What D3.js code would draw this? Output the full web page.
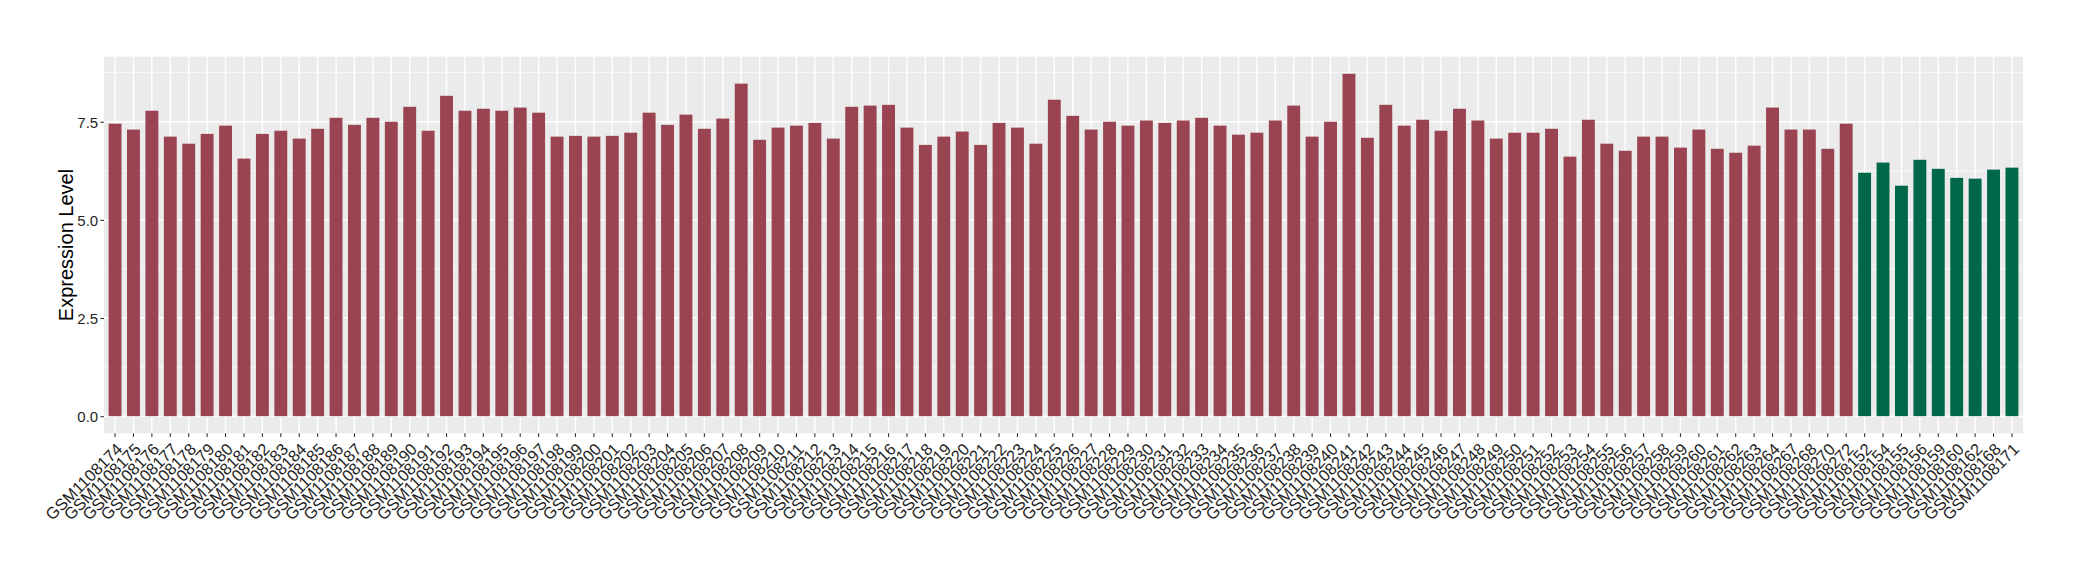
<!DOCTYPE html>
<meta charset='utf-8'>
<title>Expression Level</title>
<style>
body { margin: 0; background: #fff; }
.panel { fill: #ebebeb; }
.grid-major line { stroke: #fff; stroke-width: 1.4px; }
.grid-minor line { stroke: #fff; stroke-width: 0.7px; }
.axis path { display: none; }
.axis line { stroke: #333; stroke-width: 1.07px; }
.axis text { fill: #1f1f1f; font-family: 'Liberation Sans', Arial, sans-serif; font-size: 15px; }
.xaxis text { font-size: 16.5px; }
.ytitle { font-family: 'Liberation Sans', Arial, sans-serif; font-size: 20px; fill: #000; }
</style>
<body>
<script src='https://d3js.org/d3.v7.min.js'></script>
<script>
// group 1 samples (maroon)
var groupASamples = [
  'GSM1108174','GSM1108175','GSM1108176','GSM1108177','GSM1108178','GSM1108179','GSM1108180','GSM1108181',
  'GSM1108182','GSM1108183','GSM1108184','GSM1108185','GSM1108186','GSM1108187','GSM1108188','GSM1108189',
  'GSM1108190','GSM1108191','GSM1108192','GSM1108193','GSM1108194','GSM1108195','GSM1108196','GSM1108197',
  'GSM1108198','GSM1108199','GSM1108200','GSM1108201','GSM1108202','GSM1108203','GSM1108204','GSM1108205',
  'GSM1108206','GSM1108207','GSM1108208','GSM1108209','GSM1108210','GSM1108211','GSM1108212','GSM1108213',
  'GSM1108214','GSM1108215','GSM1108216','GSM1108217','GSM1108218','GSM1108219','GSM1108220','GSM1108221',
  'GSM1108222','GSM1108223','GSM1108224','GSM1108225','GSM1108226','GSM1108227','GSM1108228','GSM1108229',
  'GSM1108230','GSM1108231','GSM1108232','GSM1108233','GSM1108234','GSM1108235','GSM1108236','GSM1108237',
  'GSM1108238','GSM1108239','GSM1108240','GSM1108241','GSM1108242','GSM1108243','GSM1108244','GSM1108245',
  'GSM1108246','GSM1108247','GSM1108248','GSM1108249','GSM1108250','GSM1108251','GSM1108252','GSM1108253',
  'GSM1108254','GSM1108255','GSM1108256','GSM1108257','GSM1108258','GSM1108259','GSM1108260','GSM1108261',
  'GSM1108262','GSM1108263','GSM1108264','GSM1108267','GSM1108268','GSM1108270','GSM1108272'
];
var groupAValues = [
  7.45, 7.30, 7.78, 7.12, 6.94, 7.19, 7.40, 6.56, 7.19, 7.27, 7.07, 7.32, 7.60, 7.42, 7.60, 7.50,
  7.88, 7.27, 8.16, 7.78, 7.83, 7.78, 7.86, 7.73, 7.12, 7.14, 7.12, 7.14, 7.22, 7.73, 7.42, 7.68,
  7.32, 7.58, 8.47, 7.04, 7.35, 7.40, 7.47, 7.07, 7.88, 7.91, 7.93, 7.35, 6.91, 7.12, 7.25, 6.91,
  7.47, 7.35, 6.94, 8.06, 7.65, 7.30, 7.50, 7.40, 7.53, 7.47, 7.53, 7.60, 7.40, 7.17, 7.22, 7.53,
  7.91, 7.12, 7.50, 8.72, 7.09, 7.93, 7.40, 7.55, 7.27, 7.83, 7.53, 7.07, 7.22, 7.22, 7.32, 6.61,
  7.55, 6.94, 6.76, 7.12, 7.12, 6.84, 7.30, 6.81, 6.71, 6.89, 7.86, 7.30, 7.30, 6.81, 7.45
];
// group 2 samples (green)
var groupBSamples = [
  'GSM1108152','GSM1108154','GSM1108155','GSM1108156','GSM1108159','GSM1108160','GSM1108162','GSM1108168','GSM1108171'
];
var groupBValues = [6.20, 6.46, 5.87, 6.53, 6.30, 6.07, 6.05, 6.28, 6.33];

var yTicks = [0, 2.5, 5, 7.5];
var yMinor = [1.25, 3.75, 6.25, 8.75];

var colorA = '#9a4351', colorB = '#00674a';

var data = groupASamples.map(function(s, i) { return {sample: s, value: groupAValues[i], color: colorA}; })
  .concat(groupBSamples.map(function(s, i) { return {sample: s, value: groupBValues[i], color: colorB}; }));

var margin = {top: 56.7, right: 57, bottom: 146.7, left: 104},
    width = 2080 - margin.left - margin.right,
    height = 580 - margin.top - margin.bottom;

var svg = d3.select('body')
  .append('svg')
  .attr('width', 2080)
  .attr('height', 580)
  .append('g')
  .attr('transform', 'translate(' + margin.left + ',' + margin.top + ')');

// discrete x, ggplot-like 0.6 expansion on each side, bar width 0.7
var x = d3.scaleBand()
  .domain(data.map(function(d) { return d.sample; }))
  .range([0, width])
  .paddingInner(0.3)
  .paddingOuter(0.25);

var ymax = d3.max(data, function(d) { return d.value; });
var y = d3.scaleLinear()
  .domain([-0.05 * ymax, 1.05 * ymax])
  .range([height, 0]);

svg.append('rect').attr('class', 'panel').attr('width', width).attr('height', height);

svg.append('g').attr('class', 'grid-minor')
  .selectAll('line').data(yMinor).enter().append('line')
  .attr('x1', 0).attr('x2', width)
  .attr('y1', function(d) { return y(d); }).attr('y2', function(d) { return y(d); });

svg.append('g').attr('class', 'grid-major')
  .selectAll('line').data(yTicks).enter().append('line')
  .attr('x1', 0).attr('x2', width)
  .attr('y1', function(d) { return y(d); }).attr('y2', function(d) { return y(d); });

svg.append('g').attr('class', 'grid-major')
  .selectAll('line').data(data).enter().append('line')
  .attr('x1', function(d) { return x(d.sample) + x.bandwidth() / 2; })
  .attr('x2', function(d) { return x(d.sample) + x.bandwidth() / 2; })
  .attr('y1', 0).attr('y2', height);

svg.selectAll('.bar')
  .data(data)
  .enter().append('rect')
  .attr('class', 'bar')
  .attr('x', function(d) { return x(d.sample); })
  .attr('width', x.bandwidth())
  .attr('y', function(d) { return y(d.value); })
  .attr('height', function(d) { return y(0) - y(d.value); })
  .attr('fill', function(d) { return d.color; });

// y axis
svg.append('g')
  .attr('class', 'axis')
  .call(d3.axisLeft(y).tickValues(yTicks).tickSize(3.6).tickPadding(2.2).tickFormat(d3.format('.1f')))
  .selectAll('text').attr('dy', '0.36em');

// x axis, labels turned 45 degrees and ending at the tick
var xAxis = svg.append('g')
  .attr('class', 'axis xaxis')
  .attr('transform', 'translate(0,' + height + ')')
  .call(d3.axisBottom(x).tickSize(3.6).tickSizeOuter(0));

xAxis.selectAll('text')
  .attr('text-anchor', 'end')
  .attr('y', 0)
  .attr('x', 0)
  .attr('dy', '0.72em')
  .attr('transform', 'translate(0,8.5) rotate(-45)');

svg.append('text')
  .attr('class', 'ytitle')
  .attr('transform', 'translate(' + (-31) + ',' + (height / 2) + ') rotate(-90)')
  .attr('text-anchor', 'middle')
  .text('Expression Level');
</script>
</body>
